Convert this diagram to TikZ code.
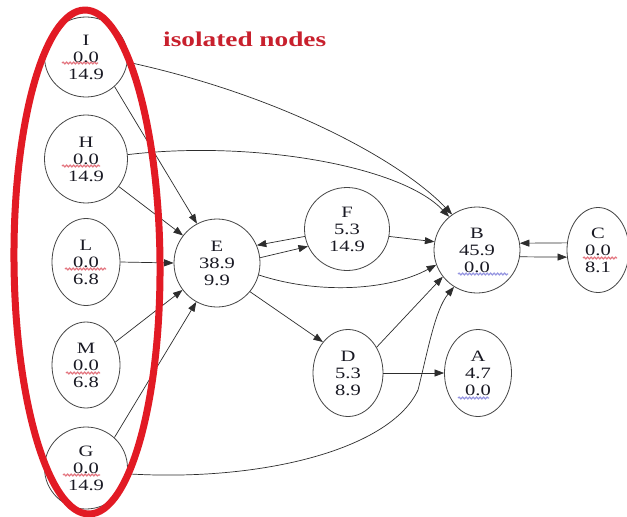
\documentclass[tikz,border=0pt]{standalone}
\usepackage{fontspec}
\setmainfont{Liberation Serif}
\newfontfamily\graphfont{Liberation Serif}[FakeStretch=1.3]
\usetikzlibrary{arrows.meta,shapes.geometric,decorations.pathmorphing}

\definecolor{edgegray}{RGB}{45,45,45}
\definecolor{nodegray}{RGB}{70,70,70}
\definecolor{txt}{RGB}{25,25,35}
\definecolor{ringred}{RGB}{226,26,36}
\definecolor{titlered}{RGB}{200,32,45}
\definecolor{wavered}{RGB}{228,118,128}
\definecolor{waveblue}{RGB}{150,150,225}

\begin{document}
\begin{tikzpicture}[x=1pt,y={(0pt,-1pt)},
  vtx/.style={draw=nodegray, line width=0.8pt, ellipse, inner sep=0pt,
    align=center, text=txt, font=\graphfont\fontsize{15.8}{17}\selectfont},
  link/.style={draw=edgegray, line width=0.7pt,
    -{Triangle[length=9.5pt,width=7pt]}},
  squiggle/.style={line width=1.2pt, decorate,
    decoration={snake, amplitude=0.9pt, segment length=3.5pt}}]

\fill[white] (0,0) rectangle (627,517);
\useasboundingbox (0,0) rectangle (627,517);

% left column
\node[vtx, minimum width=83pt, minimum height=80pt] (I) at (86,57)  {I\\0.0\\14.9};
\node[vtx, minimum width=83pt, minimum height=88pt] (H) at (86,159) {H\\0.0\\14.9};
\node[vtx, minimum width=68pt, minimum height=87pt] (L) at (86,262) {L\\0.0\\6.8};
\node[vtx, minimum width=68pt, minimum height=86pt] (M) at (86,365) {M\\0.0\\6.8};
\node[vtx, minimum width=83pt, minimum height=82pt] (G) at (86,468) {G\\0.0\\14.9};

% middle and right
\node[vtx, minimum width=86pt, minimum height=88pt] (E) at (217,263) {E\\38.9\\9.9};
\node[vtx, minimum width=85pt, minimum height=83pt] (F) at (347,229) {F\\5.3\\14.9};
\node[vtx, minimum width=70pt, minimum height=87pt] (D) at (348,373) {D\\5.3\\8.9};
\node[vtx, minimum width=86pt, minimum height=86pt] (B) at (477,250) {B\\45.9\\0.0};
\node[vtx, minimum width=62pt, minimum height=85pt] (C) at (598,250) {C\\0.0\\8.1};
\node[vtx, minimum width=67pt, minimum height=87pt] (A) at (478,373) {A\\4.7\\0.0};

% edges into E
\draw[link] (I.-46) -- (E.117);
\draw[link] (H.-40) -- (E.141);
\draw[link] (L.east) -- (E.west);
\draw[link] (M.38) -- (E.218);
\draw[link] (G.47) -- (E.242);

% long edges into B
\draw[link] (I.-7) .. controls (280,95) and (400,160) .. (B.125);
\draw[link] (H.6) .. controls (250,140) and (400,165) .. (B.130);
\draw[link] (G.-8) .. controls (260,482) and (390,450) .. (418,390)
                    .. controls (428,350) and (435,310) .. (B.238);

% E, F, D, B, A, C
\draw[link] (E.7) -- (F.204);
\draw[link] (F.190) -- (E.24);
\draw[link] (F.-10) -- (B.169);
\draw[link] (E.-16) .. controls (320,295) and (390,290) .. (B.200);
\draw[link] (E.-41) -- (D.129);
\draw[link] (D.42) -- (B.218);
\draw[link] (D.east) -- (A.west);
\draw[link] (B.-9) -- (C.193);
\draw[link] (C.167) -- (B.9);

% spell-check underlines
\draw[squiggle, wavered] (62,63) -- (98,63);
\draw[squiggle, wavered] (62,166) -- (100,166);
\draw[squiggle, wavered] (65,269) -- (106,269);
\draw[squiggle, wavered] (66,373) -- (100,373);
\draw[squiggle, wavered] (63,475) -- (100,475);
\draw[squiggle, wavered] (583,258) -- (617,258);
\draw[squiggle, waveblue] (458,274) -- (508,274);
\draw[squiggle, waveblue] (458,398) -- (489,398);

% grouping ring and caption
\draw[ringred, line width=7pt, rotate around={0.5:(87,262)}] (87,262) ellipse [x radius=73, y radius=252];
\node[anchor=base west, inner sep=0pt, text=titlered,
      font=\graphfont\bfseries\fontsize{21}{24}\selectfont] (title) at (163,46) {isolated nodes};
\end{tikzpicture}
\end{document}
